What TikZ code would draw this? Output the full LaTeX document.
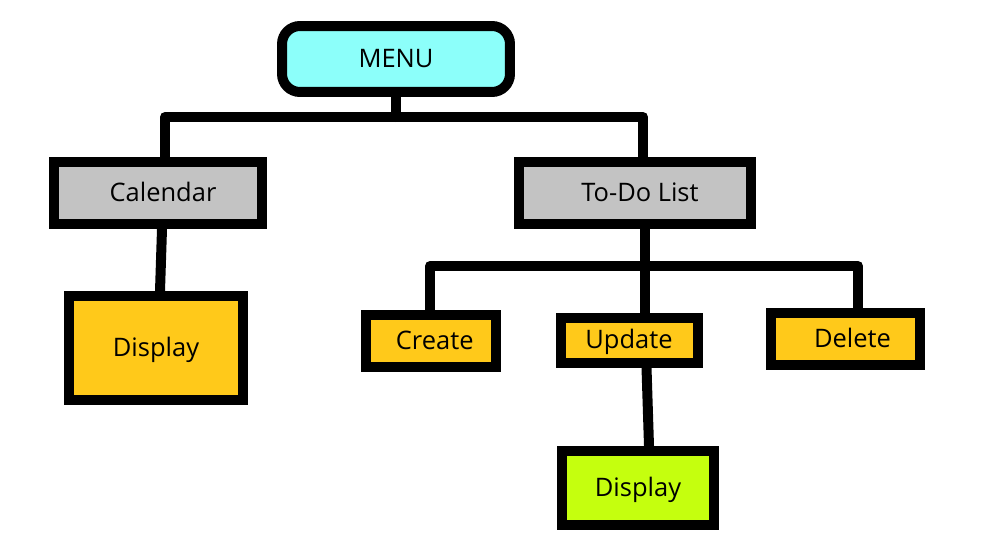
\documentclass[tikz,border=0pt]{standalone}
\usepackage{fontspec}
\setmainfont{Open Sans}
\usepackage{tikz}
\usetikzlibrary{positioning, calc}
\definecolor{menucyan}{RGB}{140,255,250}
\definecolor{boxgray}{RGB}{195,195,195}
\definecolor{boxorange}{RGB}{255,201,26}
\definecolor{boxlime}{RGB}{197,255,14}
\tikzset{box/.style = {draw,line width=0.2cm,inner sep=0pt,text height=2.2ex,text depth=0.3ex,font=\fontsize{14.5}{17}\selectfont},
         wire/.style = {line width=0.2cm,line cap=round,line join=round}}

\begin{document}
\begin{tikzpicture}[x=0.02cm,y=-0.02cm]
    \useasboundingbox (0,0) rectangle (999,551);
    \node[box,fill=menucyan,rounded corners=0.36cm,minimum width=4.56cm,minimum height=1.32cm] (menu) at (396,59) {MENU};
    \node[box,fill=boxgray,minimum width=4.16cm,minimum height=1.24cm] (cal) at (158,193) {\hspace{.2cm}Calendar};
    \node[box,fill=boxgray,minimum width=4.64cm,minimum height=1.24cm] (todo) at (635,193) {\hspace{.2cm}To-Do List};
    \node[box,fill=boxorange,minimum width=3.48cm,minimum height=2.08cm] (disp1) at (156,348) {Display};
    \node[box,fill=boxorange,minimum width=2.62cm,minimum height=1.04cm] (create) at (431,341) {\hspace{.15cm}Create};
    \node[box,fill=boxorange,minimum width=2.74cm,minimum height=0.9cm] (update) at (629,340) {Update};
    \node[box,fill=boxorange,minimum width=2.98cm,minimum height=1.04cm] (delete) at (845,339) {\hspace{.3cm}Delete};
    \node[box,fill=boxlime,minimum width=3.04cm,minimum height=1.48cm] (disp2) at (638,488) {Display};
    % junctions
    \coordinate (j1) at (396,117);
    \coordinate (jl) at (165,117);
    \coordinate (jr) at (643,117);
    \coordinate (j2) at (645,266);
    \coordinate (jc) at (430,266);
    \coordinate (jd) at (858,266);
    \draw[wire] (menu.south) -- (j1);
    \draw[wire] (cal.north -| jl) -- (jl) -- (jr) -- (todo.north -| jr);
    \draw[wire] (todo.south -| j2) -- (update.north -| j2);
    \draw[wire] (create.north -| jc) -- (jc) -- (jd) -- (delete.north -| jd);
    \draw[wire] ([xshift=.08cm]cal.south) -- ([xshift=.08cm]disp1.north);
    \draw[wire] ([xshift=.35cm]update.south) -- ([xshift=.22cm]disp2.north);
\end{tikzpicture}
\end{document}
